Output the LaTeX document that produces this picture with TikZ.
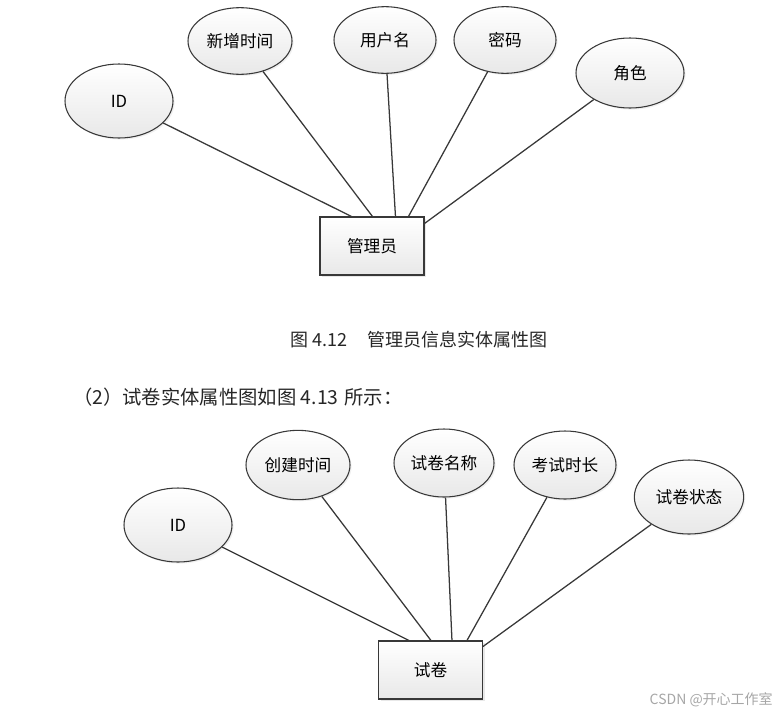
\documentclass[tikz,border=0pt]{standalone}
\usepackage{fontspec}
\setmainfont{Liberation Sans}
\newfontfamily\cjk{Noto Sans CJK SC}
\usetikzlibrary{shapes.geometric,shadows,calc}
\definecolor{edgec}{HTML}{383838}
\tikzset{
  attr/.style={ellipse,draw=edgec,line width=0.8pt,top color=white,bottom color=black!9,
    drop shadow={shadow xshift=1.2pt,shadow yshift=-1.2pt,opacity=0.12},
    font=\cjk\fontsize{12.5}{14}\selectfont,inner sep=0pt},
  ent/.style={rectangle,draw=edgec,line width=0.8pt,top color=white,bottom color=black!9,
    drop shadow={shadow xshift=1.5pt,shadow yshift=-1.5pt,opacity=0.18},
    minimum width=78pt,minimum height=43.5pt,font=\cjk\fontsize{12.5}{14}\selectfont,inner sep=0pt},
  conn/.style={draw=edgec,line width=0.95pt},
  txt/.style={font=\cjk\fontsize{13.5}{16}\selectfont,text=black!85,inner sep=0pt}
}
\begin{document}
\begin{tikzpicture}[x=0.75pt,y=-0.75pt]
\useasboundingbox (0,0) rectangle (780,714);
% top diagram
\node[attr,minimum width=81pt,minimum height=55.5pt] (id1) at (119,101) {ID};
\node[attr,minimum width=78pt,minimum height=50pt] (xz) at (240,41) {新增时间};
\node[attr,minimum width=76.5pt,minimum height=50pt] (yh) at (385,40) {用户名};
\node[attr,minimum width=76.5pt,minimum height=50pt] (mm) at (505,40) {密码};
\node[attr,minimum width=81pt,minimum height=52.5pt] (js) at (630,73) {角色};
\node[ent] (gly) at (372,246) {管理员};
\coordinate (g1) at ($(gly.north west)+(32,0)$);
\coordinate (g2) at ($(gly.north west)+(53,0)$);
\coordinate (g3) at ($(gly.north west)+(76,0)$);
\coordinate (g4) at ($(gly.north west)+(89,0)$);
\coordinate (g5) at ($(gly.north east)+(0,7)$);
\draw[conn] (id1) -- (g1);
\draw[conn] (xz) -- (g2);
\draw[conn] (yh) -- (g3);
\draw[conn] (mm) -- (g4);
\draw[conn] (js) -- (g5);
\node[txt,anchor=west] (cap) at (290,340) {图 4.12\hspace{1.1em}管理员信息实体属性图};
\node[txt,anchor=west,font=\cjk\fontsize{14.5}{16}\selectfont] (sub) at (73,397) {（2）试卷实体属性图如图 4.13\hspace{0.3em}所示：};
% bottom diagram
\node[attr,minimum width=81pt,minimum height=55.5pt] (id2) at (178,525) {ID};
\node[attr,minimum width=78pt,minimum height=52pt] (cj) at (298,465) {创建时间};
\node[attr,minimum width=75pt,minimum height=51pt] (mc) at (444,463) {试卷名称};
\node[attr,minimum width=76.5pt,minimum height=51pt] (sc) at (565,465) {考试时长};
\node[attr,minimum width=82pt,minimum height=55.5pt] (zt) at (689,497) {试卷状态};
\node[ent] (sj) at (430.5,670) {试卷};
\coordinate (s1) at ($(sj.north west)+(31,0)$);
\coordinate (s2) at ($(sj.north west)+(53,0)$);
\coordinate (s3) at ($(sj.north west)+(74,0)$);
\coordinate (s4) at ($(sj.north west)+(89,0)$);
\coordinate (s5) at ($(sj.north east)+(0,6)$);
\draw[conn] (id2) -- (s1);
\draw[conn] (cj) -- (s2);
\draw[conn] (mc) -- (s3);
\draw[conn] (sc) -- (s4);
\draw[conn] (zt) -- (s5);
\node[font=\cjk\fontsize{10.5}{12}\selectfont,text=black!35,anchor=east,inner sep=0pt] (wm) at (773,700) {CSDN @开心工作室};
\end{tikzpicture}
\end{document}
